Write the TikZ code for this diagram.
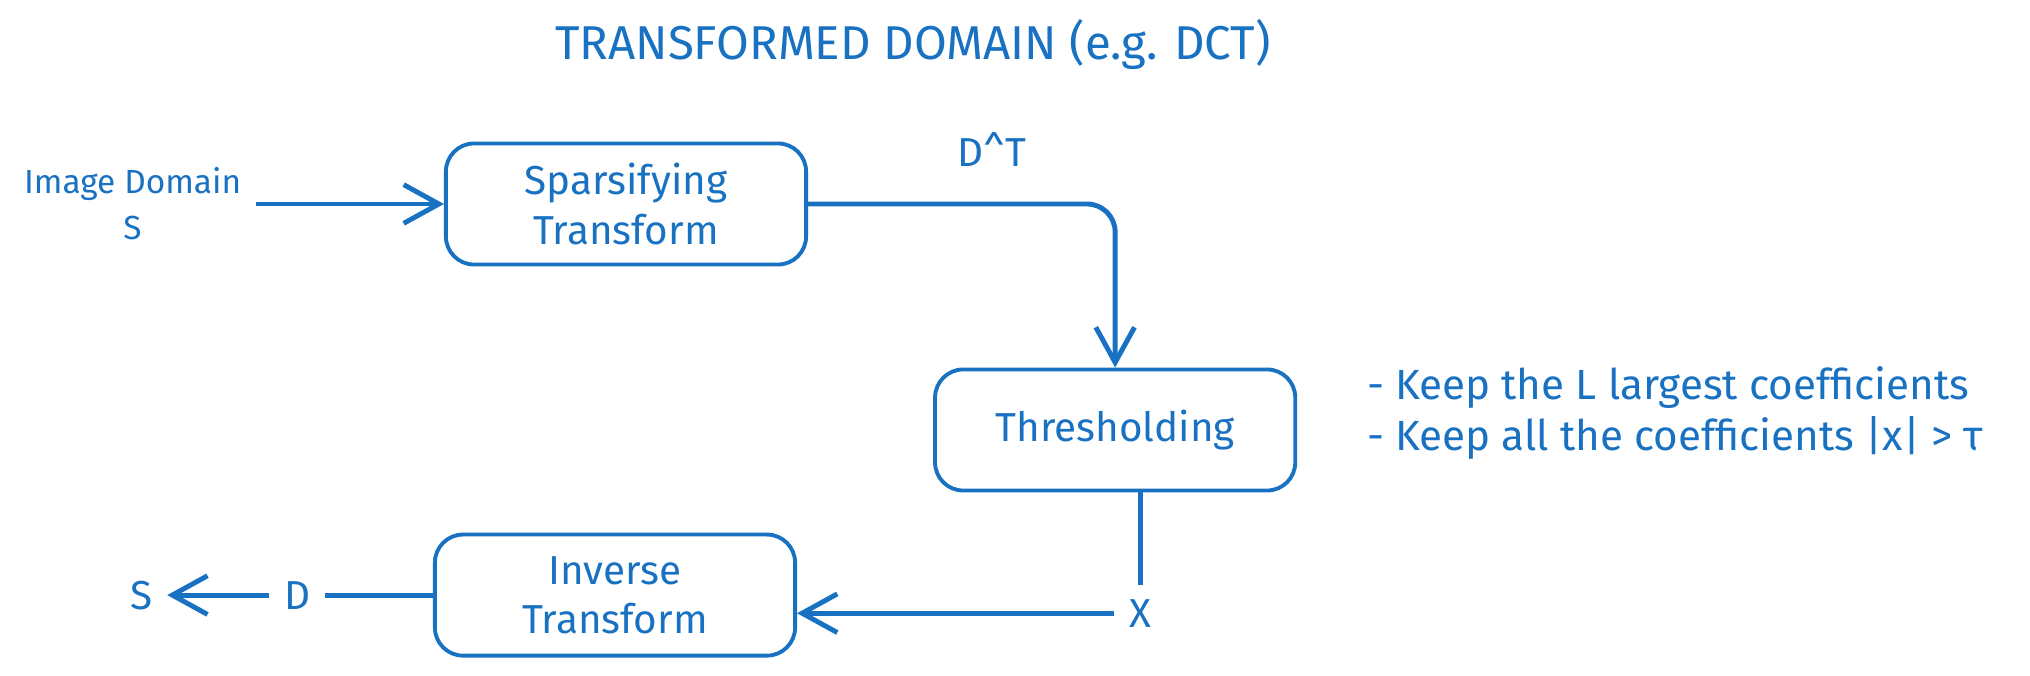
\documentclass[tikz,border=0pt]{standalone}
\usepackage{fontspec}
\setmainfont{Fira Sans}
\usetikzlibrary{arrows.meta, positioning}
\definecolor{pen}{HTML}{1971C2}
\tikzset{
  box/.style={rectangle,draw=pen,line width=1.1pt,rounded corners=8pt,align=center,text=pen,minimum width=3.6cm,minimum height=1.21cm,font=\fontsize{11.5}{14}\selectfont},
  tag/.style={text=pen,align=center,inner sep=4pt,font=\fontsize{11.5}{14}\selectfont},
  wire/.style={draw=pen,line width=1.4pt},
  line/.style={wire,-{Straight Barb[length=10pt,width=11pt]}}
}
\begin{document}
\begin{tikzpicture}[x=0.01cm,y=-0.01cm]
\useasboundingbox (0,0) rectangle (2030,676);
\node[tag, font=\fontsize{13.5}{16}\selectfont] (title) at (913,45) {TRANSFORMED DOMAIN (e.g. DCT)};
\node[box] (spars) at (626,204) {Sparsifying\\Transform};
\node[box, below right=1.01cm and 1.25cm of spars] (thresh) {Thresholding};
\node[box, below=2.66cm of spars, xshift=-0.11cm] (inv) {Inverse\\Transform};
\node[tag, font=\fontsize{9.5}{13}\selectfont, left=1.88cm of spars] (img) {Image Domain\\S};
\node[tag, below=0.92cm of thresh, xshift=0.25cm] (xval) {X};
\node[tag, left=1.08cm of inv] (dlab) {D};
\node[tag, left=1.02cm of dlab] (sout) {S};
\node[tag, align=left, font=\fontsize{12}{14.5}\selectfont, right=0.55cm of thresh, yshift=0.17cm] (notes) {- Keep the L largest coefficients\\- Keep all the coefficients |x| > τ};
\draw[line] (img) -- (spars);
\draw[line, rounded corners=8pt] (spars) -| node[tag, pos=0.3, above=6pt] (dt) {D\textasciicircum T} (thresh);
\draw[wire] (xval |- thresh.south) -- (xval);
\draw[line] (xval) -- (xval -| inv.east);
\draw[wire] (inv) -- (dlab);
\draw[line] (dlab) -- (sout);
\end{tikzpicture}
\end{document}
